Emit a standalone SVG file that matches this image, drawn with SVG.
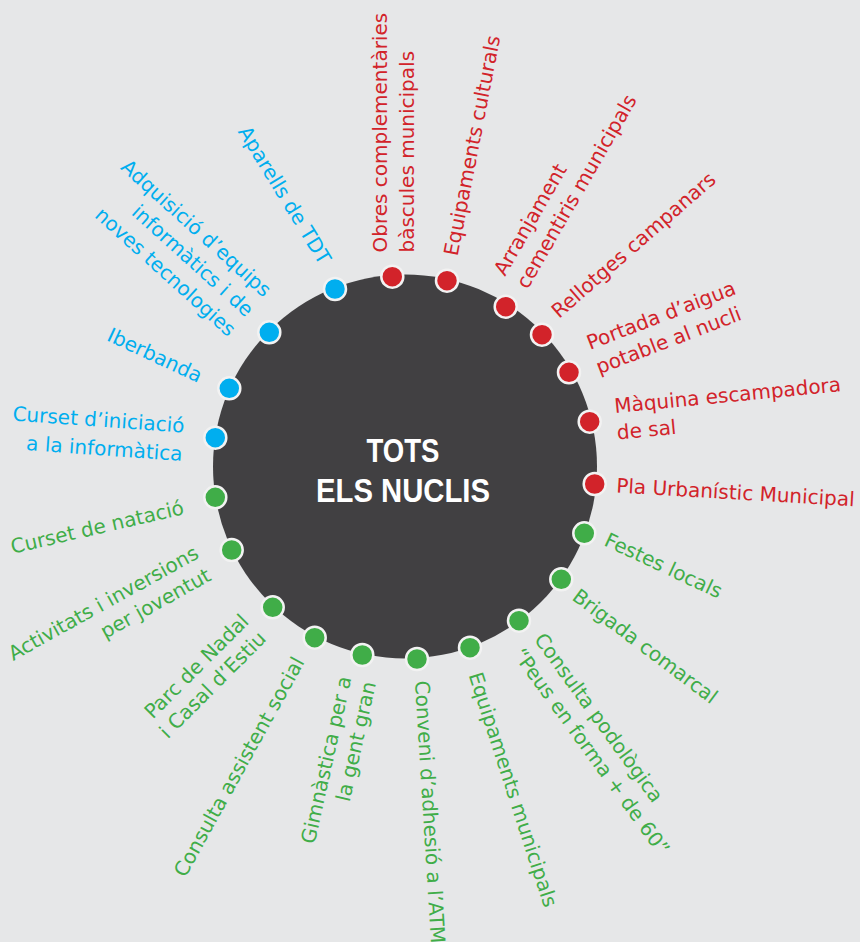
<svg xmlns="http://www.w3.org/2000/svg" width="860" height="942" viewBox="0 0 860 942">
<style>
.lbl{font-family:"DejaVu Sans","Liberation Sans",sans-serif;font-size:20px}
.r{fill:#d2232a}.b{fill:#00aeef}.g{fill:#40ad48}
.dot{stroke:#f2f2f2;stroke-width:2.5}
.end{text-anchor:end}
.hub{font-family:"Liberation Sans",Arial,sans-serif;font-weight:bold;font-size:34px;fill:#ffffff;text-anchor:middle}
</style>
<rect width="860" height="942" fill="#e6e7e8"/>
<g id="hub">
<circle cx="405" cy="466.5" r="192" fill="#414042"/>
<text class="hub" x="403" y="462" textLength="73" lengthAdjust="spacingAndGlyphs">TOTS</text>
<text class="hub" x="403" y="501.7" textLength="174" lengthAdjust="spacingAndGlyphs">ELS NUCLIS</text>
</g>
<g id="n-aparells"><circle class="dot b" cx="335" cy="289" r="11"/><text class="lbl b end" transform="translate(320,266) rotate(58.5)">Aparells de TDT</text></g>
<g id="n-adquisicio"><circle class="dot b" cx="269.3" cy="332.3" r="11"/><text class="lbl b end" transform="translate(263.5,298) rotate(42)"><tspan x="0" y="0">Adquisició d’equips</tspan><tspan x="0" y="26.5">informàtics i de</tspan><tspan x="0" y="53">noves tecnologies</tspan></text></g>
<g id="n-iberbanda"><circle class="dot b" cx="229.3" cy="388.3" r="11"/><text class="lbl b end" transform="translate(198,383) rotate(25)">Iberbanda</text></g>
<g id="n-curset-info"><circle class="dot b" cx="215.3" cy="437.7" r="11"/><text class="lbl b end" transform="translate(184,432.5) rotate(4)"><tspan x="0" y="0">Curset d’iniciació</tspan><tspan x="0" y="28.5">a la informàtica</tspan></text></g>
<g id="n-natacio"><circle class="dot g" cx="215.3" cy="497.3" r="11"/><text class="lbl g end" transform="translate(185,514) rotate(-13)">Curset de natació</text></g>
<g id="n-activitats"><circle class="dot g" cx="231.7" cy="550" r="11"/><text class="lbl g end" transform="translate(200,557.3) rotate(-29)"><tspan x="0" y="0">Activitats i inversions</tspan><tspan x="0" y="25.5">per joventut</tspan></text></g>
<g id="n-parc"><circle class="dot g" cx="272.7" cy="607.3" r="11"/><text class="lbl g end" transform="translate(250,622.5) rotate(-45)"><tspan x="0" y="0">Parc de Nadal</tspan><tspan x="0" y="24.5">i Casal d’Estiu</tspan></text></g>
<g id="n-assistent"><circle class="dot g" cx="314.7" cy="637.7" r="11"/><text class="lbl g end" transform="translate(305,662) rotate(-61)">Consulta assistent social</text></g>
<g id="n-gimnastica"><circle class="dot g" cx="362.3" cy="655" r="11"/><text class="lbl g end" transform="translate(351.5,678) rotate(-77.5)"><tspan x="0" y="0">Gimnàstica per a</tspan><tspan x="0" y="25">la gent gran</tspan></text></g>
<g id="n-conveni"><circle class="dot g" cx="417" cy="659" r="11"/><text class="lbl g" transform="translate(415,681) rotate(86.5)">Conveni d’adhesió a l’ATM</text></g>
<g id="n-equip-mun"><circle class="dot g" cx="470" cy="647.7" r="11"/><text class="lbl g" transform="translate(468.5,675) rotate(72)">Equipaments municipals</text></g>
<g id="n-podologica"><circle class="dot g" cx="519" cy="620.7" r="11"/><text class="lbl g" transform="translate(533.5,639.5) rotate(54)"><tspan x="0" y="0">Consulta podològica</tspan><tspan x="0" y="26">“Peus en forma + de 60”</tspan></text></g>
<g id="n-brigada"><circle class="dot g" cx="561.3" cy="579.3" r="11"/><text class="lbl g" transform="translate(571,599) rotate(37)">Brigada comarcal</text></g>
<g id="n-festes"><circle class="dot g" cx="584.3" cy="533.3" r="11"/><text class="lbl g" transform="translate(603,545) rotate(25)">Festes locals</text></g>
<g id="n-pla"><circle class="dot r" cx="594.7" cy="484" r="11"/><text class="lbl r" transform="translate(616,492.5) rotate(3.3)">Pla Urbanístic Municipal</text></g>
<g id="n-maquina"><circle class="dot r" cx="589.7" cy="421.7" r="11"/><text class="lbl r" transform="translate(615,413) rotate(-5.5)"><tspan x="0" y="0">Màquina escampadora</tspan><tspan x="0" y="26.6">de sal</tspan></text></g>
<g id="n-portada"><circle class="dot r" cx="569" cy="372.3" r="11"/><text class="lbl r" transform="translate(590,350) rotate(-21)"><tspan x="0" y="0">Portada d’aigua</tspan><tspan x="0" y="26">potable al nucli</tspan></text></g>
<g id="n-rellotges"><circle class="dot r" cx="542" cy="334.7" r="11"/><text class="lbl r" transform="translate(559,319) rotate(-41)">Rellotges campanars</text></g>
<g id="n-arranjament"><circle class="dot r" cx="505.7" cy="306.7" r="11"/><text class="lbl r" transform="translate(505,277) rotate(-60)"><tspan x="0" y="0">Arranjament</tspan><tspan x="0" y="26">cementiris municipals</tspan></text></g>
<g id="n-equip-cult"><circle class="dot r" cx="447" cy="280.7" r="11"/><text class="lbl r" transform="translate(457.6,256.7) rotate(-79)">Equipaments culturals</text></g>
<g id="n-obres"><circle class="dot r" cx="392.3" cy="276.7" r="11"/><text class="lbl r" transform="translate(387,252.5) rotate(-90)"><tspan x="0" y="0">Obres complementàries</tspan><tspan x="0" y="27">bàscules municipals</tspan></text></g>
</svg>
